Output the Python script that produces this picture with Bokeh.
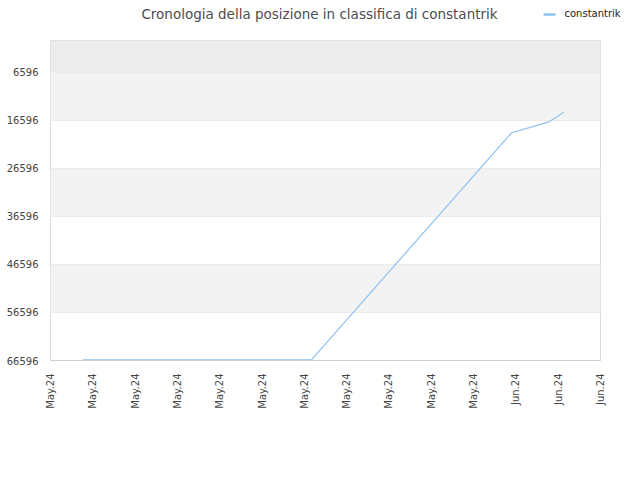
from bokeh.plotting import figure
from bokeh.models import Range1d, FixedTicker, BoxAnnotation
from bokeh.layouts import column
from bokeh.core.properties import value
from bokeh.embed import file_html
from bokeh.resources import INLINE
import math

# ---- data ----
title_text = "Cronologia della posizione in classifica di constantrik"
series_name = "constantrik"
x_tick_pos = [0, 3, 6, 9, 12, 15, 18, 21, 24, 27, 30, 33, 36, 39]
x_tick_labels = ["May.24"] * 11 + ["Jun.24"] * 3
y_ticks = [6596, 16596, 26596, 36596, 46596, 56596, 66596]
days = [2.3, 18.5, 32.7, 35.3, 36.4]
rank = [66450, 66450, 19150, 16950, 14870]

LINE_COLOR = "#8dc1f2"
W = 624

# ---- header (title + legend key) ----
hdr = figure(width=W, height=40, output_backend="svg", toolbar_location=None,
             x_range=Range1d(0, W), y_range=Range1d(40, 0),
             min_border=0, min_border_left=0, min_border_right=0,
             min_border_top=0, min_border_bottom=0)
hdr.frame_align = False
hdr.axis.visible = False
hdr.grid.visible = False
hdr.outline_line_color = None
hdr.background_fill_color = "white"
hdr.border_fill_color = "white"
hdr.text(x=[319], y=[13], text=[title_text], text_align="center",
         text_baseline="middle", text_font=value("DejaVu Sans"),
         text_font_size="13.5px", text_color="#4d4d4d")
hdr.segment(x0=[543], x1=[555], y0=[14], y1=[14], line_color=LINE_COLOR,
            line_width=2.5)
hdr.text(x=[564], y=[13], text=[series_name], text_align="left",
         text_baseline="middle", text_font=value("DejaVu Sans"),
         text_font_size="10px", text_color="#222222")

# ---- main chart ----
p = figure(width=W, height=392, output_backend="svg", toolbar_location=None,
           x_range=Range1d(0, 39), y_range=Range1d(66596, -70),
           min_border_left=50, min_border_right=24, min_border_top=0,
           min_border_bottom=72)
p.frame_align = False
p.background_fill_color = "white"
p.border_fill_color = "white"
p.outline_line_color = "#dcdcdc"

p.add_layout(BoxAnnotation(top=-70, bottom=y_ticks[0], fill_color="#ececec",
                           fill_alpha=1, line_color=None, level="underlay"))
for i in range(len(y_ticks) - 1):
    if i % 2 == 0:
        p.add_layout(BoxAnnotation(top=y_ticks[i], bottom=y_ticks[i + 1],
                                   fill_color="#f3f3f3", fill_alpha=1,
                                   line_color=None, level="underlay"))

p.line(days, rank, line_color=LINE_COLOR, line_width=1.2)

p.xaxis.ticker = FixedTicker(ticks=x_tick_pos)
p.xaxis.major_label_overrides = {t: l for t, l in zip(x_tick_pos, x_tick_labels)}
p.xaxis.major_label_orientation = math.pi / 2
p.yaxis.ticker = FixedTicker(ticks=y_ticks)
p.yaxis.major_label_overrides = {t: str(t) for t in y_ticks}
for ax in (p.xaxis[0], p.yaxis[0]):
    ax.major_tick_line_color = None
    ax.minor_tick_line_color = None
    ax.major_label_text_font = "DejaVu Sans"
    ax.major_label_text_font_size = "10px"
    ax.major_label_text_color = "#444444"
p.xaxis.axis_line_color = "#d0d0d0"
p.yaxis.axis_line_color = None
p.xaxis.major_label_standoff = 7
p.yaxis.major_label_standoff = 6
p.xgrid.grid_line_color = None
p.ygrid.grid_line_color = "#e2e2e2"

layout = column(hdr, p, spacing=0)
open("out.html", "w").write(file_html(layout, INLINE))
